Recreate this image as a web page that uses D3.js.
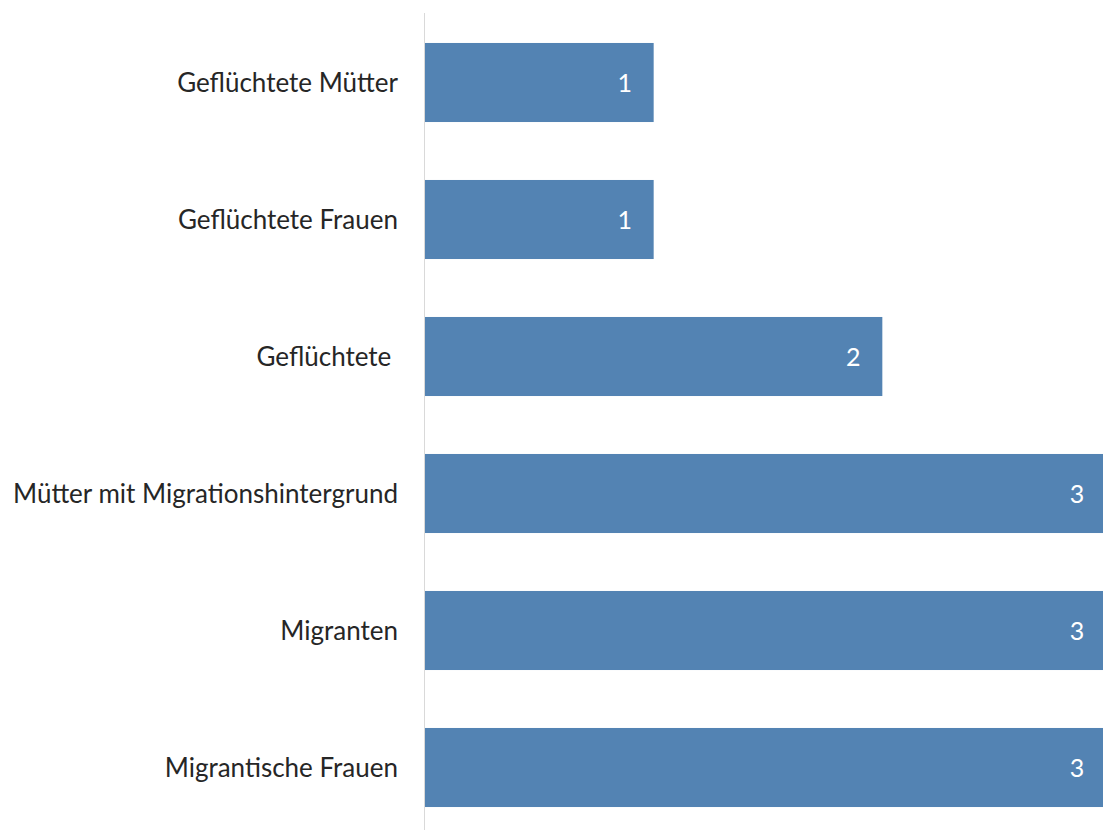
<!DOCTYPE html>
<html><head><meta charset="utf-8">
<script src="https://cdn.jsdelivr.net/npm/d3@7"></script>
<style>html,body{margin:0;padding:0;background:#fff;overflow:hidden} text{white-space:pre}</style>
</head><body>
<svg id="chart" width="1103" height="830"></svg>
<script>
const categories = ["Geflüchtete Mütter", "Geflüchtete Frauen", "Geflüchtete ", "Mütter mit Migrationshintergrund", "Migranten", "Migrantische Frauen"];
const values = [1, 1, 2, 3, 3, 3];

const W = 1103, H = 830;
const svg = d3.select("#chart");
const font = "Lato, 'Open Sans', sans-serif";

const y = d3.scaleBand().domain(categories).range([14, 836]).paddingInner(0.423).paddingOuter(0.2115);
const x = d3.scaleLinear().domain([0, 3]).range([425, 1111]);

const data = categories.map((c, i) => ({c, v: values[i]}));

// axis line
svg.append("line").attr("x1", 424.5).attr("x2", 424.5).attr("y1", 13).attr("y2", H)
  .attr("stroke", "#d9d9d9").attr("stroke-width", 1);

svg.selectAll("rect.bar").data(data).enter().append("rect")
  .attr("class", "bar")
  .attr("x", x(0)).attr("y", d => y(d.c))
  .attr("width", d => x(d.v) - x(0)).attr("height", y.bandwidth())
  .attr("fill", "#5383b3");

svg.selectAll("text.cat").data(data).enter().append("text")
  .attr("class", "cat")
  .attr("x", 398).attr("y", d => y(d.c) + y.bandwidth() / 2)
  .attr("dy", "0.36em").attr("text-anchor", "end")
  .attr("font-family", font).attr("font-size", 26).attr("fill", "#262626")
  .text(d => d.c);

svg.selectAll("text.val").data(data).enter().append("text")
  .attr("class", "val")
  .attr("x", d => Math.min(x(d.v) - 29, W - 26)).attr("y", d => y(d.c) + y.bandwidth() / 2)
  .attr("dy", "0.36em").attr("text-anchor", "middle")
  .attr("font-family", font).attr("font-size", 25).attr("fill", "#ffffff")
  .text(d => d.v);
</script>
</body></html>
